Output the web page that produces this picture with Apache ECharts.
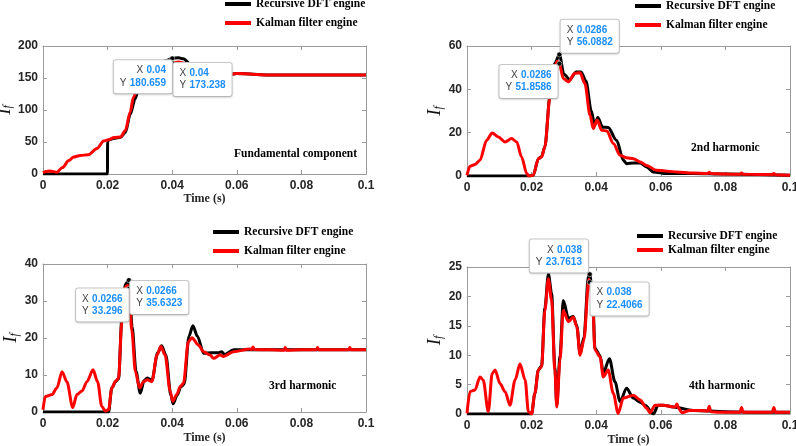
<!DOCTYPE html>
<html><head><meta charset="utf-8">
<script src="https://cdn.jsdelivr.net/npm/echarts/dist/echarts.min.js"></script>
<style>html,body{margin:0;padding:0;background:#fff}#c{width:796px;height:446px}</style>
</head><body><div id="c"></div>
<script>
// ---------- DATA ----------
const seriesNames = ['Recursive DFT engine', 'Kalman filter engine'];
const panelTitles = ['Fundamental component', '2nd harmonic', '3rd harmonic', '4th harmonic'];
const xTickValues = [0, 0.02, 0.04, 0.06, 0.08, 0.1];
const yMaxValues = [200, 60, 40, 25];
const yStepValues = [50, 20, 10, 5];

// Fundamental component
const fundKalT = [0, 0.001, 0.002, 0.003, 0.0043, 0.006, 0.008, 0.0095, 0.0115, 0.014, 0.0167, 0.0188, 0.0203, 0.022, 0.024, 0.0255, 0.027, 0.028, 0.0301, 0.032, 0.034, 0.036, 0.038, 0.04, 0.042, 0.044, 0.046, 0.048, 0.05, 0.053, 0.056, 0.06, 0.065, 0.07, 0.08, 0.09, 0.1];
const fundKalV = [2, 4, 4.7, 3.8, 2.8, 10, 21, 26.5, 29, 30, 39.7, 51.5, 53.7, 56.9, 57.8, 68, 97, 120, 146, 160, 167, 171, 173, 173.2, 175, 173, 166, 158, 153, 151, 154, 157, 156, 154.5, 154.5, 154.5, 154.5];
const fundDftT = [0, 0.01995, 0.02, 0.0203, 0.022, 0.024, 0.0255, 0.027, 0.0285, 0.0301, 0.032, 0.034, 0.036, 0.038, 0.04, 0.042, 0.0435, 0.0455, 0.047, 0.049, 0.051, 0.054, 0.057, 0.06, 0.065, 0.07, 0.08, 0.09, 0.1];
const fundDftV = [0, 0, 50, 53, 56, 57.5, 65, 93, 117, 144, 160, 168, 173, 177, 180.66, 181.5, 180, 172, 164, 156, 152, 151, 154.5, 157, 156, 154.5, 154.5, 154.5, 154.5];

// 2nd harmonic
const h2KalT = [0, 0.0009, 0.0025, 0.004, 0.0061, 0.0078, 0.0097, 0.0118, 0.0138, 0.0154, 0.0169, 0.0185, 0.0192, 0.0205, 0.0221, 0.0231, 0.0241, 0.0257, 0.0272, 0.0279, 0.0286, 0.0298, 0.0314, 0.0334, 0.035, 0.0365, 0.0381, 0.0391, 0.0403, 0.0417, 0.0433, 0.0453, 0.0474, 0.0494, 0.0515, 0.0536, 0.0556, 0.0587, 0.0649, 0.07, 0.0745, 0.075, 0.0755, 0.08, 0.0845, 0.085, 0.0855, 0.09, 0.0945, 0.095, 0.0955, 0.1];
const h2KalV = [0.3, 4.5, 5.3, 7.3, 16.5, 19.9, 18, 15.7, 17.3, 15.7, 8.8, 1.1, 0, 0.3, 8, 8.8, 13.4, 36.5, 50.4, 53, 51.86, 45, 43.5, 47.4, 47.6, 42.7, 28, 21.9, 25.8, 21.1, 20.8, 15, 9.6, 8.4, 8, 6.5, 4.9, 2.6, 1.9, 1.4, 1.1, 1.7, 1.1, 0.9, 0.8, 1.4, 0.8, 0.7, 0.6, 1.2, 0.6, 0.3];
const h2DftT = [0, 0.0195, 0.0205, 0.0221, 0.0231, 0.0241, 0.0257, 0.0272, 0.0286, 0.03, 0.0318, 0.0338, 0.0353, 0.0368, 0.0385, 0.0395, 0.0405, 0.042, 0.0437, 0.0463, 0.0484, 0.0494, 0.0515, 0.0536, 0.0556, 0.0577, 0.0618, 0.07, 0.08, 0.09, 0.1];
const h2DftV = [0, 0, 0.3, 8, 9, 13.5, 37, 52, 56.09, 47, 44.5, 48, 48, 44, 30, 23.5, 27, 22.5, 22.4, 16.5, 7.3, 5.7, 6, 6, 4.2, 1.9, 1.1, 1.2, 0.9, 0.7, 0.3];

// 3rd harmonic
const h3KalT = [0, 0.0007, 0.0028, 0.0043, 0.0059, 0.0074, 0.0092, 0.0105, 0.0121, 0.0136, 0.0155, 0.0169, 0.0182, 0.0193, 0.0203, 0.0213, 0.0225, 0.0234, 0.0244, 0.0255, 0.0262, 0.0266, 0.0275, 0.0286, 0.0299, 0.0311, 0.0323, 0.0337, 0.0353, 0.0365, 0.0378, 0.0394, 0.0402, 0.0414, 0.0425, 0.0435, 0.045, 0.0461, 0.0481, 0.0497, 0.0517, 0.0528, 0.0548, 0.0559, 0.059, 0.0641, 0.0646, 0.065, 0.0654, 0.07, 0.0746, 0.075, 0.0754, 0.08, 0.0846, 0.085, 0.0854, 0.09, 0.0946, 0.095, 0.0954, 0.1];
const h3KalV = [0.6, 4.2, 4.7, 6.5, 10.9, 8.2, 1.2, 4.7, 5.7, 8.2, 11.4, 8.2, 1.5, 0.3, 0.6, 6.5, 8.4, 9.1, 24.4, 33.8, 34.2, 33.3, 22, 10.9, 6.5, 8.2, 8.7, 8.2, 15.4, 17.7, 15.4, 5.5, 2.9, 4.7, 6.9, 7.8, 19, 20.1, 18.1, 16.3, 15.4, 14.5, 15.4, 15, 16.3, 17, 16.9, 17.6, 16.9, 16.8, 16.7, 17.4, 16.7, 16.8, 16.8, 17.4, 16.8, 16.8, 16.8, 17.4, 16.8, 16.8];
const h3DftT = [0, 0.0203, 0.0213, 0.0225, 0.0234, 0.0244, 0.0255, 0.0266, 0.0276, 0.0288, 0.0301, 0.0313, 0.0323, 0.0337, 0.0355, 0.0367, 0.038, 0.0396, 0.0403, 0.0415, 0.0427, 0.0437, 0.0452, 0.0464, 0.0478, 0.0497, 0.052, 0.0543, 0.0553, 0.0562, 0.059, 0.062, 0.07, 0.08, 0.09, 0.1];
const h3DftV = [0, 0, 6.5, 8.2, 9, 25, 34.5, 35.63, 23, 11, 5.1, 8.5, 9.2, 8.5, 16, 17.9, 15.5, 4.5, 2.2, 4.5, 6.8, 7.5, 20.5, 23.3, 20.5, 15.9, 16, 16, 16.3, 15.5, 16.8, 16.8, 16.8, 16.8, 16.8, 16.8];

// 4th harmonic
const h4KalT = [0, 0.0009, 0.0025, 0.004, 0.005, 0.0066, 0.0078, 0.0087, 0.0102, 0.0118, 0.0133, 0.0149, 0.0164, 0.018, 0.019, 0.02, 0.021, 0.0221, 0.0231, 0.0241, 0.0252, 0.0262, 0.0272, 0.0278, 0.0288, 0.0298, 0.0314, 0.0329, 0.034, 0.035, 0.0362, 0.0377, 0.038, 0.0389, 0.0396, 0.0412, 0.0422, 0.0437, 0.0453, 0.0468, 0.0484, 0.0515, 0.0536, 0.0556, 0.0567, 0.0582, 0.0608, 0.0639, 0.0645, 0.065, 0.0655, 0.0665, 0.069, 0.0722, 0.0745, 0.075, 0.0755, 0.078, 0.0845, 0.085, 0.0855, 0.09, 0.0945, 0.095, 0.0955, 0.1];
const h4KalV = [0.1, 3.8, 4.1, 6.3, 5.8, 0.4, 6.9, 7.5, 5.2, 3.8, 1.5, 5.8, 8.5, 5.8, 0.4, 0, 3.5, 7.5, 8, 17.6, 23, 19.3, 7.5, 1.2, 9.2, 17.6, 15.7, 16.5, 14.8, 10, 12.6, 22.9, 22.4, 19.3, 10.9, 9.7, 6.3, 7.5, 3.5, 0.1, 2.7, 3.2, 2.4, 1.0, 0.2, 1.5, 1.5, 1.2, 1.2, 1.7, 1.0, 0.2, 0.6, 0.6, 0.5, 1.3, 0.4, 0.3, 0.3, 1.1, 0.3, 0.3, 0.3, 1.1, 0.3, 0.3];
const h4DftT = [0, 0.02, 0.021, 0.0221, 0.0231, 0.0241, 0.0252, 0.0262, 0.0272, 0.0278, 0.0288, 0.0298, 0.0314, 0.0329, 0.034, 0.035, 0.0362, 0.0376, 0.038, 0.0389, 0.0396, 0.0412, 0.0422, 0.0441, 0.0458, 0.0474, 0.0494, 0.0515, 0.0536, 0.0551, 0.0577, 0.0592, 0.0608, 0.0639, 0.07, 0.08, 0.09, 0.1];
const h4DftV = [0, 0, 3.5, 7.5, 8.2, 18, 23.8, 20.5, 8, 1.5, 10, 19.3, 16.3, 16.6, 15, 10.3, 13, 23.5, 23.76, 20, 11.2, 9.9, 7, 9.4, 5.5, 2.1, 4.4, 2.7, 2, 1.5, 0, 1.5, 1.5, 1.2, 0.6, 0.4, 0.3, 0.3];

// Data tips
const tipX = [0.04, 0.0286, 0.0266, 0.038];
const tipDftY = ['180.659', '56.0882', '35.6323', '23.7613'];
const tipKalY = ['173.238', '51.8586', '33.296', '22.4066'];

// ---------- LAYOUT ----------
const grids = [
  {left: 43, top: 46, width: 323, height: 128},
  {left: 467, top: 46, width: 323, height: 130},
  {left: 43, top: 264, width: 323, height: 148},
  {left: 467, top: 267, width: 323, height: 147}
];
const legendPos = [
  {left: 225, top: -3, gap: 5},
  {left: 635, top: -1, gap: 5},
  {left: 213, top: 225, gap: 5},
  {left: 637, top: 229, gap: 0}
];
const titlePos = [[234, 148], [691, 142], [269, 380], [689, 380]];
const xNameGap = [16, null, 20, 20];
const tipDftLabel = [
  {position: [2.5, 4.5], align: 'right', verticalAlign: 'top'},
  {position: [4, 1], align: 'left', verticalAlign: 'bottom'},
  {position: [4, 3.5], align: 'left', verticalAlign: 'top'},
  {position: [1, 1], align: 'right', verticalAlign: 'bottom'}
];
const tipKalLabel = [
  {position: [4, 2.5], align: 'left', verticalAlign: 'top'},
  {position: [1, 4], align: 'right', verticalAlign: 'top'},
  {position: [2.5, 2.5], align: 'right', verticalAlign: 'top'},
  {position: [3.5, 3], align: 'left', verticalAlign: 'top'}
];

const zip = (t, v) => t.map((x, i) => [x, v[i]]);
const panelData = [
  [zip(fundDftT, fundDftV), zip(fundKalT, fundKalV)],
  [zip(h2DftT, h2DftV), zip(h2KalT, h2KalV)],
  [zip(h3DftT, h3DftV), zip(h3KalT, h3KalV)],
  [zip(h4DftT, h4DftV), zip(h4KalT, h4KalV)]
];

const AX = '#9a9a9a';
const sans = '"Liberation Sans", Arial, Helvetica, sans-serif';
const serif = '"Liberation Serif", "Times New Roman", serif';

const xAxes = [], yAxes = [], series = [], legends = [], graphics = [];

function tipLabel(g, val, cfg) {
  return Object.assign({
    show: true,
    formatter: '{k|X} {v|' + tipX[g] + '}\n{k|Y} {v|' + val + '}',
    backgroundColor: '#fff',
    borderColor: '#c8c8c8',
    borderWidth: 1,
    borderRadius: 2,
    padding: [4, 6, 4, 6],
    shadowColor: 'rgba(0,0,0,0.12)',
    shadowBlur: 2,
    shadowOffsetY: 1,
    rich: {
      k: {color: '#404040', fontSize: 10, fontFamily: sans, lineHeight: 12.5},
      v: {color: '#1b8eff', fontSize: 10, fontFamily: sans, fontWeight: 'bold', lineHeight: 12.5}
    }
  }, cfg);
}

grids.forEach((gr, g) => {
  const tickFmt = v => String(Math.round(v * 100) / 100);
  xAxes.push({
    type: 'value', gridIndex: g, position: 'bottom', min: 0, max: 0.1, interval: 0.02,
    axisLine: {show: true, onZero: false, lineStyle: {color: AX, width: 1}},
    axisTick: {show: true, inside: true, length: 4, lineStyle: {color: AX}},
    axisLabel: {show: true, formatter: tickFmt, color: '#262626', fontWeight: 'bold', fontSize: 12, fontFamily: sans, margin: 6},
    splitLine: {show: false},
    name: xNameGap[g] == null ? '' : 'Time (s)',
    nameLocation: 'middle', nameGap: xNameGap[g] || 0,
    nameTextStyle: {fontFamily: serif, fontWeight: 'bold', fontSize: 12, color: '#262626'}
  });
  xAxes.push({
    type: 'value', gridIndex: g, position: 'top', min: 0, max: 0.1, interval: 0.02,
    axisLine: {show: true, onZero: false, lineStyle: {color: AX, width: 1}},
    axisTick: {show: true, inside: true, length: 4, lineStyle: {color: AX}},
    axisLabel: {show: false}, splitLine: {show: false}
  });
  yAxes.push({
    type: 'value', gridIndex: g, position: 'left', min: 0, max: yMaxValues[g], interval: yStepValues[g],
    axisLine: {show: true, onZero: false, lineStyle: {color: AX, width: 1}},
    axisTick: {show: true, inside: true, length: 4, lineStyle: {color: AX}},
    axisLabel: {show: true, color: '#262626', fontWeight: 'bold', fontSize: 12, fontFamily: sans, margin: 5},
    splitLine: {show: false},
    name: '{a|I}{b|f}', nameLocation: 'middle', nameRotate: 90, nameGap: 22,
    nameTextStyle: {
      rich: {
        a: {fontFamily: serif, fontStyle: 'italic', fontSize: 19, color: '#111', verticalAlign: 'bottom', lineHeight: 22},
        b: {fontFamily: serif, fontStyle: 'italic', fontSize: 12, color: '#111', verticalAlign: 'bottom', lineHeight: 15}
      }
    }
  });
  yAxes.push({
    type: 'value', gridIndex: g, position: 'right', min: 0, max: yMaxValues[g], interval: yStepValues[g],
    axisLine: {show: true, onZero: false, lineStyle: {color: AX, width: 1}},
    axisTick: {show: true, inside: true, length: 4, lineStyle: {color: AX}},
    axisLabel: {show: false}, splitLine: {show: false}
  });

  const colors = ['#000000', '#ff0000'];
  const tipVals = [tipDftY[g], tipKalY[g]];
  const tipCfgs = [tipDftLabel[g], tipKalLabel[g]];
  [0, 1].forEach(s => {
    series.push({
      type: 'line', name: seriesNames[s], xAxisIndex: 2 * g, yAxisIndex: 2 * g,
      data: panelData[g][s], symbol: 'none', showSymbol: false,
      smooth: 0.3, smoothMonotone: 'x',
      lineStyle: {color: colors[s], width: 3},
      itemStyle: {color: colors[s]},
      emphasis: {disabled: true},
      z: 2 + s,
      animation: false,
      markPoint: {
        symbol: 'circle', symbolSize: 5,
        itemStyle: {color: '#000', borderColor: '#fff', borderWidth: 0.5},
        z: 10,
        data: [{coord: [tipX[g], parseFloat(tipVals[s])], label: tipLabel(g, tipVals[s], tipCfgs[s])}],
        animation: false
      }
    });
  });

  legends.push({
    data: seriesNames, left: legendPos[g].left, top: legendPos[g].top, orient: 'vertical',
    itemWidth: 26, itemHeight: 4, itemGap: legendPos[g].gap, icon: 'rect', padding: 0,
    selectedMode: false,
    textStyle: {fontFamily: serif, fontWeight: 'bold', fontSize: 11.5, color: '#000', lineHeight: 14}
  });

  graphics.push({
    type: 'text', left: titlePos[g][0], top: titlePos[g][1], z: 20,
    style: {text: panelTitles[g], font: 'bold 11.5px ' + serif, fill: '#000'}
  });
});

const chart = echarts.init(document.getElementById('c'), null, {renderer: 'canvas'});
chart.setOption({
  animation: false,
  backgroundColor: '#fff',
  grid: grids.map(g => Object.assign({containLabel: false, outerBoundsMode: 'none'}, g)),
  xAxis: xAxes,
  yAxis: yAxes,
  legend: legends,
  series: series,
  graphic: graphics
});
</script></body></html>
